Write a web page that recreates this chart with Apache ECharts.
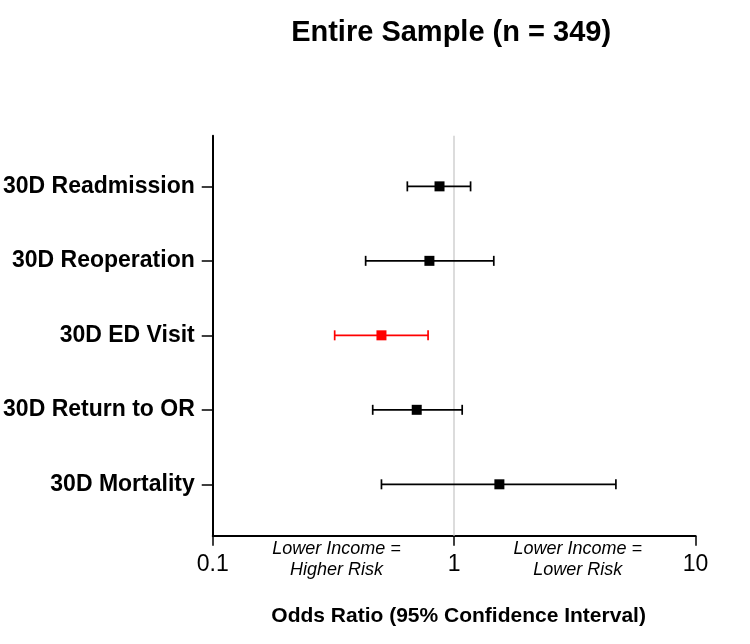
<!DOCTYPE html>
<html>
<head>
<meta charset="utf-8">
<script src="https://cdn.jsdelivr.net/npm/echarts@6/dist/echarts.min.js"></script>
<style>
html,body{margin:0;padding:0;background:#fff;}
#chart{width:750px;height:644px;}
</style>
</head>
<body>
<div id="chart"></div>
<script>
const titleText = 'Entire Sample (n = 349)';
const axisTitle = 'Odds Ratio (95% Confidence Interval)';
const categories = ['30D Readmission', '30D Reoperation', '30D ED Visit', '30D Return to OR', '30D Mortality'];
const oddsRatio = [0.87, 0.79, 0.50, 0.70, 1.54];
const ciLow = [0.64, 0.43, 0.32, 0.46, 0.50];
const ciHigh = [1.17, 1.46, 0.78, 1.08, 4.68];
const highlighted = ['30D ED Visit'];
const xTicks = [0.1, 1, 10];
const annotationTexts = ['Lower Income =\nHigher Risk', 'Lower Income =\nLower Risk'];

const FONT = '"Liberation Sans", Arial, Helvetica, sans-serif';
const BLACK = '#000000';
const RED = '#ff0000';

const rows = categories.map((c, i) => i + 1);
const colorOf = i => highlighted.indexOf(categories[i]) >= 0 ? RED : BLACK;

const barData = categories.map((c, i) => ({
  value: [rows[i], ciLow[i], ciHigh[i]],
  itemStyle: { color: colorOf(i) }
}));
const pointData = categories.map((c, i) => ({
  value: [oddsRatio[i], rows[i]],
  itemStyle: { color: colorOf(i), opacity: 1 }
}));

const chart = echarts.init(document.getElementById('chart'), null, { renderer: 'canvas' });

const option = {
  animation: false,
  backgroundColor: '#ffffff',
  grid: { left: 211, right: 54.5, top: 135.7, bottom: 108.3, containLabel: false },
  xAxis: {
    type: 'log',
    logBase: 10,
    min: 0.1,
    max: 10,
    name: axisTitle,
    nameLocation: 'middle',
    nameGap: 70,
    nameTextStyle: { fontFamily: FONT, fontSize: 21, fontWeight: 'bold', color: BLACK, padding: [0, 0, 0, 9] },
    axisLine: { show: true, lineStyle: { color: BLACK, width: 2 } },
    axisTick: { show: true, length: 10, lineStyle: { color: BLACK, width: 1.5 }, customValues: xTicks },
    minorTick: { show: false },
    axisLabel: {
      margin: 17,
      fontFamily: FONT,
      fontSize: 23,
      color: BLACK,
      customValues: xTicks,
      formatter: v => (v < 1 ? v.toFixed(1) : String(Math.round(v)))
    },
    splitLine: { show: false }
  },
  yAxis: {
    type: 'value',
    inverse: true,
    min: 0.32,
    max: 5.69,
    axisLine: { show: true, lineStyle: { color: BLACK, width: 2 } },
    axisTick: { show: true, length: 11, lineStyle: { color: BLACK, width: 1.5 }, customValues: rows },
    axisLabel: {
      margin: 18,
      fontFamily: FONT,
      fontSize: 23,
      fontWeight: 'bold',
      color: BLACK,
      customValues: rows,
      formatter: v => categories[Math.round(v) - 1] || ''
    },
    splitLine: { show: false }
  },
  series: [
    {
      type: 'custom',
      name: 'CI',
      z: 10,
      encode: { x: [1, 2], y: 0 },
      data: barData,
      renderItem: function (params, api) {
        const y = api.value(0);
        const lo = api.value(1);
        const hi = api.value(2);
        const p1 = api.coord([lo, y]);
        const p2 = api.coord([hi, y]);
        const color = api.visual('color');
        const style = { stroke: color, lineWidth: 1.7 };
        const h = 5;
        return {
          type: 'group',
          children: [
            { type: 'line', shape: { x1: p1[0], y1: p1[1], x2: p2[0], y2: p2[1] }, style: style },
            { type: 'line', shape: { x1: p1[0], y1: p1[1] - h, x2: p1[0], y2: p1[1] + h }, style: style },
            { type: 'line', shape: { x1: p2[0], y1: p2[1] - h, x2: p2[0], y2: p2[1] + h }, style: style }
          ]
        };
      },
      markLine: {
        z: 1,
        silent: true,
        symbol: ['none', 'none'],
        label: { show: false },
        lineStyle: { color: '#d0d0d0', width: 1.5, type: 'solid' },
        data: [{ xAxis: 1 }]
      }
    },
    {
      type: 'scatter',
      name: 'OR',
      z: 11,
      symbol: 'rect',
      symbolSize: 10,
      itemStyle: { opacity: 1 },
      data: pointData
    }
  ],
  graphic: []
};

chart.setOption(option);

const g = [];
const titleX = (chart.convertToPixel({ xAxisIndex: 0 }, 0.1) + chart.convertToPixel({ xAxisIndex: 0 }, 10)) / 2 - 3;
g.push({
  type: 'text',
  x: titleX,
  y: 33,
  style: { text: titleText, fontFamily: FONT, fontSize: 29, fontWeight: 'bold', fill: BLACK, align: 'center', verticalAlign: 'middle' }
});
const midpoints = [Math.sqrt(xTicks[0] * xTicks[1]), Math.sqrt(xTicks[1] * xTicks[2])];
annotationTexts.forEach((t, i) => {
  g.push({
    type: 'text',
    x: chart.convertToPixel({ xAxisIndex: 0 }, midpoints[i]) + 3,
    y: 538.5,
    style: { text: t, fontFamily: FONT, fontSize: 18, fontStyle: 'italic', fill: BLACK, align: 'center', verticalAlign: 'top', lineHeight: 21 }
  });
});
chart.setOption({ graphic: g });
</script>
</body>
</html>
